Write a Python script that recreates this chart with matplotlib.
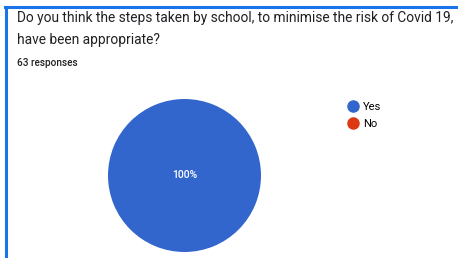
import matplotlib.pyplot as plt
from matplotlib.lines import Line2D

plt.rcParams['font.family'] = ['Roboto', 'DejaVu Sans']

question = "Do you think the steps taken by school, to minimise the risk of Covid 19,\nhave been appropriate?"
n_responses = "63 responses"
answers = ['Yes', 'No']
counts = [63, 0]
colors = ['#3366cc', '#dc3912']

W, H = 458, 258
fig = plt.figure(figsize=(W / 100, H / 100), dpi=100)

# blue card border (top + left edge)
fig.add_artist(Line2D([5 / W, 1], [1 - 6.5 / H, 1 - 6.5 / H], color='#1a73e8', lw=2.2))
fig.add_artist(Line2D([6 / W, 6 / W], [0, 1 - 6.5 / H], color='#1a73e8', lw=2.2))

fig.text(17 / W, 1 - 11 / H, question, fontsize=9.9, color='#202124',
         va='top', ha='left', linespacing=1.75)
fig.text(17 / W, 1 - 63 / H, n_responses, fontsize=7.2, color='#202124',
         va='center', ha='left', fontweight='medium')

ax = fig.add_axes([108 / W, 6 / H, 153 / W, 153 / H])
shown = [(c, col) for c, col in zip(counts, colors) if c > 0]
wedges, texts, autotexts = ax.pie([s[0] for s in shown], colors=[s[1] for s in shown],
                                  startangle=90, counterclock=False,
                                  autopct='%1.0f%%', pctdistance=0.0,
                                  textprops={'color': 'white', 'fontsize': 7.5,
                                             'fontweight': 'medium'})
ax.set_xlim(-1, 1)
ax.set_ylim(-1, 1)
ax.set_aspect('equal')

handles = [Line2D([], [], marker='o', ls='', markersize=8, color=c) for c in colors]
fig.legend(handles, answers, loc='upper left', bbox_to_anchor=(340 / W, 1 - 96 / H),
           frameon=False, fontsize=8, handletextpad=0.2, labelspacing=0.65,
           borderpad=0, handlelength=1.4)

fig.savefig('out.png', dpi=100)
